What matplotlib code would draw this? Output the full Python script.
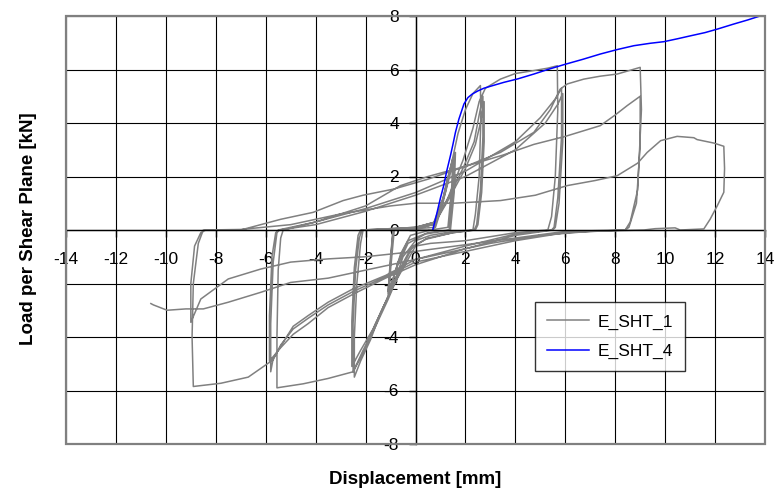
import matplotlib.pyplot as plt
from matplotlib.patches import Rectangle

plt.rcParams["font.family"] = ["Liberation Sans", "DejaVu Sans"]
plt.rcParams["axes.unicode_minus"] = False

# E_SHT_1: cyclic test, (displacement mm, load kN)
sht1_points = [
    # small cycles
    (0.0, 0.0), (0.7, 0.0), (1.0, 0.7), (1.25, 1.8), (1.5, 2.7),
    (1.45, 1.6), (1.3, 0.1), (0.6, 0.0), (-0.2, -0.2), (-0.6, -0.9), (-0.85, -1.7), (-1.05, -2.4),
    (-1.0, -1.5), (-0.85, 0.0), (0.0, 0.05), (0.7, 0.2), (1.1, 1.2), (1.4, 2.3), (1.55, 2.8),
    (1.5, 1.5), (1.35, 0.0), (0.5, -0.1), (-0.3, -0.4), (-0.7, -1.2), (-0.95, -2.0), (-1.1, -2.3),
    (-1.0, -1.2), (-0.9, 0.0), (0.1, 0.1), (0.8, 0.3), (1.2, 1.4), (1.5, 2.5), (1.6, 2.9),
    (1.55, 1.4), (1.4, 0.0), (0.4, -0.15), (-0.3, -0.5), (-0.75, -1.4), (-1.0, -2.1), (-1.1, -2.4),
    (-1.0, -1.0), (-0.9, 0.0),
    # +/- 2.5 mm
    (0.0, 0.05), (0.8, 0.1), (1.1, 1.0), (1.4, 2.3), (1.7, 3.6), (2.0, 4.5), (2.3, 5.1), (2.6, 5.4),
    (2.62, 4.2), (2.55, 2.0), (2.4, 0.6), (2.3, 0.0), (1.5, -0.05), (0.6, -0.2), (0.0, -0.4),
    (-0.5, -1.0), (-0.9, -2.1), (-1.4, -3.1), (-1.8, -4.1), (-2.2, -4.9), (-2.45, -5.5),
    (-2.45, -4.0), (-2.35, -2.0), (-2.2, -0.5), (-2.1, 0.0), (-1.0, 0.0), (0.0, 0.05), (0.7, 0.2),
    (1.2, 1.0), (1.9, 2.3), (2.35, 3.3), (2.55, 4.3), (2.7, 5.0),
    (2.7, 3.5), (2.6, 1.5), (2.45, 0.2), (2.35, 0.0), (1.5, -0.1), (0.5, -0.3), (-0.1, -0.6),
    (-0.6, -1.5), (-1.1, -2.6), (-1.6, -3.6), (-2.1, -4.5), (-2.5, -5.3),
    (-2.5, -3.5), (-2.4, -1.5), (-2.25, -0.3), (-2.15, 0.0), (-1.0, 0.05), (0.0, 0.1), (0.8, 0.3),
    (1.3, 1.1), (2.0, 2.3), (2.4, 3.2), (2.6, 4.0), (2.75, 4.8),
    (2.75, 3.3), (2.65, 1.4), (2.5, 0.2), (2.4, 0.0), (1.5, -0.1), (0.4, -0.35), (-0.2, -0.7),
    (-0.7, -1.6), (-1.2, -2.7), (-1.7, -3.7), (-2.2, -4.5), (-2.55, -5.1),
    (-2.55, -3.4), (-2.45, -1.4), (-2.3, -0.2), (-2.2, 0.0),
    # +/- 6 mm
    (-1.0, 0.05), (0.0, 0.1), (0.8, 0.3), (1.3, 1.2), (1.9, 2.6), (2.3, 3.8), (2.55, 4.8), (2.8, 5.3),
    (3.4, 5.64), (4.0, 5.85), (4.74, 5.96), (5.3, 6.05), (5.68, 6.14),
    (5.7, 4.5), (5.6, 2.0), (5.45, 0.5), (5.3, 0.0), (4.0, -0.1), (2.0, -0.4), (0.6, -0.5), (0.0, -0.6),
    (-0.9, -2.1), (-1.6, -3.5), (-2.1, -4.6), (-2.5, -5.3), (-3.5, -5.55), (-4.5, -5.75), (-5.55, -5.9),
    (-5.55, -4.0), (-5.5, -1.5), (-5.4, -0.3), (-5.3, 0.0), (-4.0, 0.3), (-2.0, 0.8), (0.0, 1.4),
    (2.0, 2.2), (4.0, 3.3), (5.0, 4.2), (5.6, 4.9), (5.85, 5.3),
    (5.85, 3.5), (5.7, 1.2), (5.55, 0.1), (5.45, 0.0), (4.0, -0.15), (2.0, -0.6), (0.0, -1.1),
    (-1.2, -1.7), (-2.5, -2.2), (-3.5, -2.7), (-4.3, -3.2), (-4.9, -3.6), (-5.3, -4.2),
    (-5.7, -4.8), (-5.8, -5.3),
    (-5.8, -3.5), (-5.7, -1.2), (-5.55, -0.1), (-5.45, 0.0), (-4.0, 0.2), (-2.0, 0.7), (0.0, 1.3),
    (2.0, 2.0), (4.0, 3.0), (5.2, 4.0), (5.7, 4.7), (5.9, 5.1),
    (5.9, 3.3), (5.75, 1.0), (5.6, 0.1), (5.5, 0.0), (4.0, -0.2), (2.0, -0.7), (0.0, -1.3),
    (-1.2, -1.8), (-2.5, -2.4), (-3.5, -2.9), (-4.3, -3.5), (-4.9, -3.9), (-5.4, -4.4), (-5.85, -4.9),
    (-5.85, -3.2), (-5.75, -1.0), (-5.6, -0.1), (-5.5, 0.0),
    # +/- 9 mm
    (-4.0, 0.3), (-2.0, 0.9), (-0.6, 1.66), (0.5, 2.0), (2.07, 2.4), (3.4, 2.9), (4.74, 3.65),
    (5.4, 4.5), (5.8, 5.27), (6.08, 5.46), (6.74, 5.64), (7.4, 5.75), (8.08, 5.83), (9.0, 6.08),
    (9.05, 4.5), (8.9, 1.5), (8.6, 0.3), (8.4, 0.0), (6.0, -0.1), (4.0, -0.4), (2.0, -0.8), (0.0, -1.2),
    (-1.2, -1.75), (-2.5, -2.3), (-3.5, -2.8), (-4.3, -3.3), (-4.9, -3.7), (-5.4, -4.3), (-5.7, -4.85),
    (-6.7, -5.5), (-7.8, -5.73), (-8.9, -5.85),
    (-8.95, -4.0), (-8.9, -2.0), (-8.7, -0.5), (-8.5, 0.0), (-7.0, 0.0), (-5.4, 0.4), (-4.1, 0.66),
    (-2.9, 1.1), (-2.1, 1.3), (-0.87, 1.53), (0.5, 1.9), (2.07, 2.4), (3.5, 2.8), (4.74, 3.2),
    (6.0, 3.5), (7.4, 3.9), (8.0, 4.3), (8.48, 4.65), (9.0, 5.0),
    (9.0, 3.2), (8.85, 1.0), (8.55, 0.1), (8.4, 0.0), (6.0, -0.05), (4.0, -0.3), (2.0, -0.55),
    (0.0, -0.8), (-2.0, -1.0), (-3.5, -1.08), (-5.0, -1.2), (-6.2, -1.46), (-7.5, -1.83),
    (-8.6, -2.58), (-9.0, -3.45),
    (-9.0, -2.0), (-8.85, -0.6), (-8.6, -0.1), (-8.4, 0.0), (-7.0, 0.02), (-5.0, 0.2), (-3.0, 0.6),
    (-1.0, 0.9), (0.0, 1.0), (1.5, 1.0), (3.4, 1.1), (4.8, 1.3), (6.08, 1.66), (7.2, 1.85),
    (8.08, 2.03), (8.9, 2.5), (9.28, 2.9),
    # last excursion
    (9.82, 3.34), (10.48, 3.5), (11.15, 3.45), (11.28, 3.38), (11.95, 3.25), (12.35, 3.13),
    (12.38, 2.3), (12.35, 1.41), (12.09, 0.91), (11.8, 0.4), (11.55, 0.04), (10.6, 0.0),
    (10.4, 0.08), (9.6, 0.05), (9.15, 0.0), (7.0, -0.05), (5.0, -0.2), (3.0, -0.5), (1.5, -0.8),
    (0.0, -1.1), (-2.0, -1.5), (-3.5, -1.8), (-5.0, -1.96), (-6.2, -2.33), (-7.5, -2.7),
    (-8.5, -2.95), (-9.2, -2.95), (-9.95, -3.0), (-10.5, -2.8), (-10.6, -2.75),
]
sht1_x = [p[0] for p in sht1_points]
sht1_y = [p[1] for p in sht1_points]

# E_SHT_4: monotonic test
sht4_x = [0.69, 0.85, 1.0, 1.13, 1.25, 1.40, 1.5, 1.60, 1.74, 1.94, 2.1, 2.27, 2.5, 2.74, 3.1,
          3.54, 4.1, 4.74, 5.3, 5.94, 6.7, 7.41, 8.1, 8.75, 9.4, 9.95, 10.5, 11.02, 11.6,
          12.09, 12.75, 13.3, 13.8]
sht4_y = [0.0, 0.6, 1.2, 1.66, 2.2, 2.78, 3.2, 3.65, 4.15, 4.71, 4.95, 5.08, 5.2, 5.30, 5.4,
          5.52, 5.65, 5.83, 6.0, 6.18, 6.38, 6.58, 6.75, 6.89, 6.98, 7.04, 7.15, 7.26, 7.38,
          7.51, 7.70, 7.85, 8.0]

x_ticks = list(range(-14, 15, 2))
y_ticks = list(range(-8, 9, 2))

fig = plt.figure(figsize=(7.82, 4.91), dpi=100)
ax = fig.add_axes([66 / 782, 47 / 491, 699 / 782, 428 / 491])

ax.plot(sht1_x, sht1_y, color="#808080", lw=1.1, label="E_SHT_1")
ax.plot(sht4_x, sht4_y, color="#0000ff", lw=1.1, label="E_SHT_4")

ax.set_xlim(-14, 14)
ax.set_ylim(-8, 8)
ax.set_xticks(x_ticks)
ax.set_yticks(y_ticks)
ax.grid(True, color="black", lw=0.8)
ax.set_axisbelow(True)

ax.spines["left"].set_position("zero")
ax.spines["bottom"].set_position("zero")
ax.spines[["top", "right"]].set_visible(False)
for s in ["left", "bottom"]:
    ax.spines[s].set_linewidth(1.0)
ax.add_patch(Rectangle((0, 0), 1, 1, transform=ax.transAxes, fill=False,
                       ec="#808080", lw=1.6, clip_on=False, zorder=3))

ax.tick_params(axis="x", direction="out", length=5, width=1, pad=11, labelsize=12.5)
ax.tick_params(axis="y", direction="out", length=5, width=1, pad=7, labelsize=12.5)

leg = ax.legend(loc="lower left", bbox_to_anchor=(0.671, 0.1706), borderaxespad=0,
                fontsize=12.5, frameon=True, fancybox=False, handlelength=2.4,
                handletextpad=0.5, borderpad=0.7, labelspacing=0.8)
leg.get_frame().set_edgecolor("black")
leg.get_frame().set_linewidth(1.0)

fig.text(415 / 782, 1 - 479 / 491, "Displacement [mm]", ha="center", va="center",
         fontsize=13.5, fontweight="bold")
fig.text(29 / 782, 1 - 229 / 491, "Load per Shear Plane [kN]", ha="center", va="center",
         rotation=90, fontsize=13.5, fontweight="bold")

fig.savefig("out.png", dpi=100)
